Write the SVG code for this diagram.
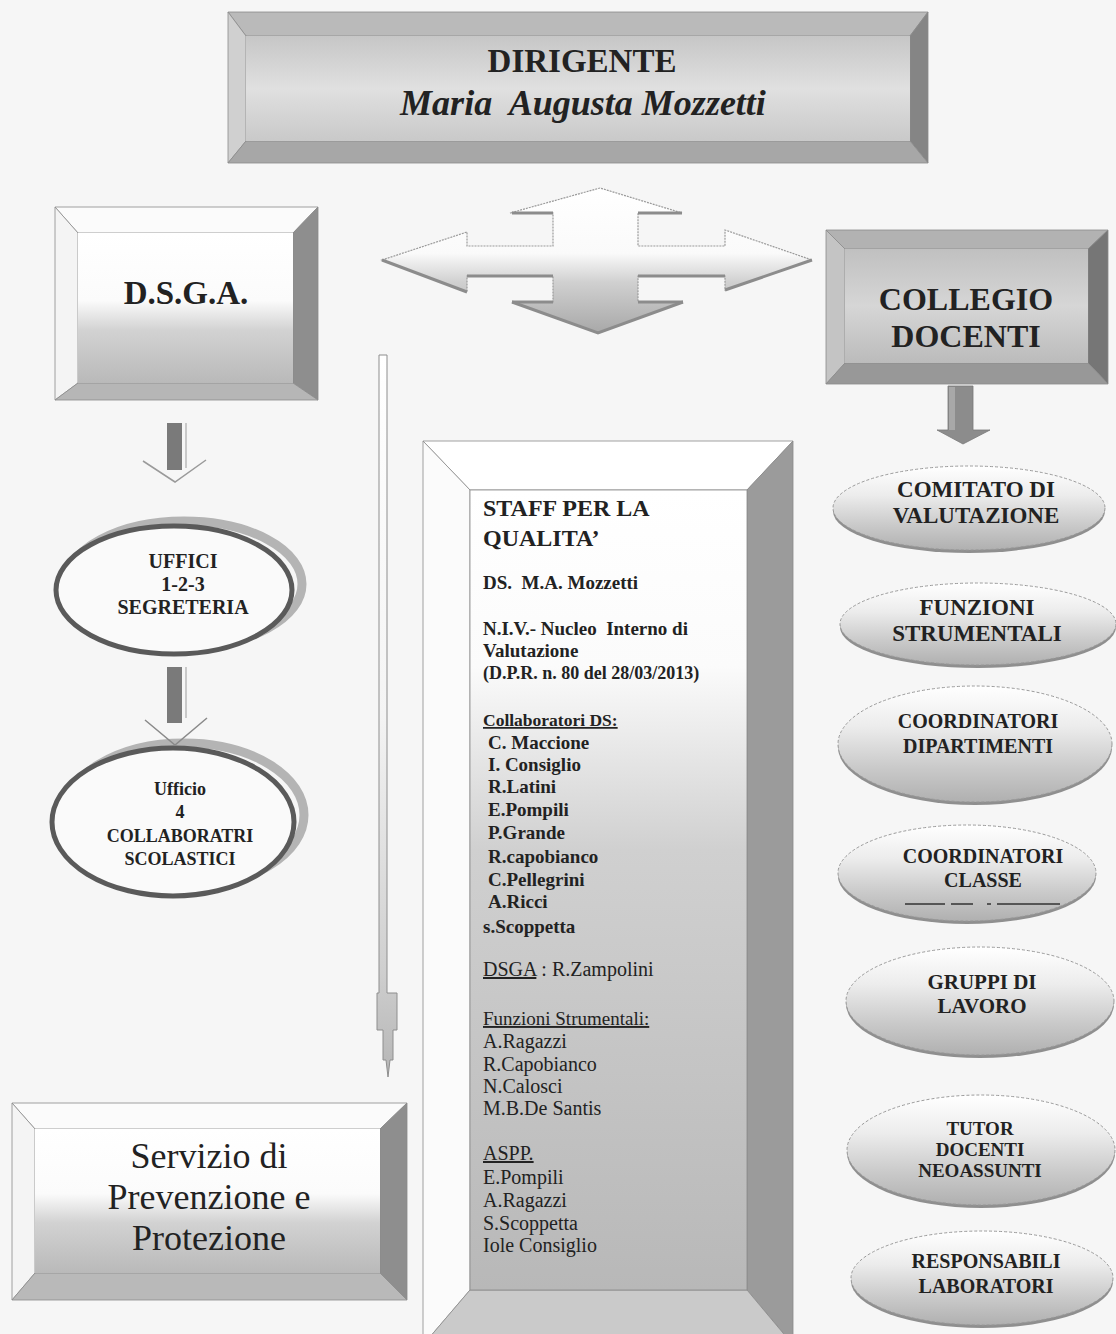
<svg xmlns="http://www.w3.org/2000/svg" width="1116" height="1334" viewBox="0 0 1116 1334">
<defs>
<style>
text{font-family:"Liberation Serif","Times New Roman",serif;fill:#222222;white-space:pre}
.b{font-weight:700}
.c{text-anchor:middle}
.edge{stroke:#8a8a8a;stroke-width:0.8}
.ul{text-decoration:underline}
.ell{stroke:#9a9a9a;stroke-width:1;stroke-dasharray:3 2}
</style>
<linearGradient id="gDir" x1="0" y1="0" x2="0" y2="1">
<stop offset="0" stop-color="#c6c6c6"/><stop offset="0.5" stop-color="#e0e0e0"/><stop offset="1" stop-color="#c9c9c9"/>
</linearGradient>
<linearGradient id="gWhiteGray" x1="0" y1="0" x2="0" y2="1">
<stop offset="0" stop-color="#ffffff"/><stop offset="0.45" stop-color="#fbfbfb"/><stop offset="0.65" stop-color="#d2d2d2"/><stop offset="1" stop-color="#b9b9b9"/>
</linearGradient>
<linearGradient id="gStaff" x1="0" y1="0" x2="0" y2="1">
<stop offset="0" stop-color="#ffffff"/><stop offset="0.22" stop-color="#fbfbfb"/><stop offset="0.45" stop-color="#d0d0d0"/><stop offset="1" stop-color="#b8b8b8"/>
</linearGradient>
<linearGradient id="gCol" x1="0" y1="0" x2="0" y2="1">
<stop offset="0" stop-color="#c0c0c0"/><stop offset="0.5" stop-color="#d6d6d6"/><stop offset="1" stop-color="#bbbbbb"/>
</linearGradient>
<linearGradient id="gArrow" x1="0" y1="0" x2="0" y2="1">
<stop offset="0" stop-color="#ffffff"/><stop offset="0.45" stop-color="#fafafa"/><stop offset="0.65" stop-color="#d0d0d0"/><stop offset="1" stop-color="#a8a8a8"/>
</linearGradient>
<linearGradient id="gThin" x1="0" y1="0" x2="0" y2="1">
<stop offset="0" stop-color="#ffffff"/><stop offset="0.5" stop-color="#f4f4f4"/><stop offset="0.85" stop-color="#cfcfcf"/><stop offset="1" stop-color="#b5b5b5"/>
</linearGradient>
<linearGradient id="gEll" x1="0" y1="0" x2="0" y2="1">
<stop offset="0" stop-color="#ffffff"/><stop offset="0.35" stop-color="#ececec"/><stop offset="0.7" stop-color="#cacaca"/><stop offset="1" stop-color="#b0b0b0"/>
</linearGradient>
</defs>
<rect x="0" y="0" width="1116" height="1334" fill="#f6f6f6"/>

<!-- DIRIGENTE -->
<g id="dirigente">
<polygon points="228,12 928,12 910,36 246,36" fill="#bababa" class="edge"/>
<polygon points="228,12 246,36 246,141 228,163" fill="#d0d0d0" class="edge"/>
<polygon points="928,12 928,163 910,141 910,36" fill="#858585" class="edge"/>
<polygon points="228,163 246,141 910,141 928,163" fill="#a7a7a7" class="edge"/>
<rect x="246" y="36" width="664" height="105" fill="url(#gDir)"/>
<text x="582" y="72" class="b c" font-size="33">DIRIGENTE</text>
<text x="583" y="115" class="b c" font-size="36" font-style="italic">Maria  Augusta Mozzetti</text>
</g>

<!-- D.S.G.A. -->
<g id="dsga">
<polygon points="55,207 318,207 293,233 78,233" fill="#fbfbfb" class="edge"/>
<polygon points="55,207 78,233 78,383 55,400" fill="#f4f4f4" class="edge"/>
<polygon points="318,207 318,400 293,383 293,233" fill="#8e8e8e" class="edge"/>
<polygon points="55,400 78,383 293,383 318,400" fill="#b6b6b6" class="edge"/>
<rect x="78" y="233" width="215" height="150" fill="url(#gWhiteGray)"/>
<text x="186" y="304" class="b c" font-size="33">D.S.G.A.</text>
</g>

<!-- COLLEGIO DOCENTI -->
<g id="collegio">
<polygon points="826,230 1108,230 1088,249 845,249" fill="#b2b2b2" class="edge"/>
<polygon points="826,230 845,249 845,363 826,384" fill="#c4c4c4" class="edge"/>
<polygon points="1108,230 1108,384 1088,363 1088,249" fill="#767676" class="edge"/>
<polygon points="826,384 845,363 1088,363 1108,384" fill="#989898" class="edge"/>
<rect x="845" y="249" width="243" height="114" fill="url(#gCol)"/>
<text x="966" y="310" class="b c" font-size="32">COLLEGIO</text>
<text x="966" y="347" class="b c" font-size="32">DOCENTI</text>
</g>

<!-- STAFF PER LA QUALITA' -->
<g id="staff">
<polygon points="423,441 793,441 747,490 470,490" fill="#ffffff" class="edge"/>
<polygon points="423,441 470,490 470,1290 423,1345" fill="#fbfbfb" class="edge"/>
<polygon points="793,441 793,1345 747,1290 747,490" fill="#9b9b9b" class="edge"/>
<polygon points="423,1345 470,1290 747,1290 793,1345" fill="#cacaca" class="edge"/>
<rect x="470" y="490" width="277" height="800" fill="url(#gStaff)" stroke="#8a8a8a" stroke-width="0.8"/>
<text x="483" y="516" class="b" font-size="24">STAFF PER LA</text>
<text x="483" y="546" class="b" font-size="24">QUALITA’</text>
<text x="483" y="589" class="b" font-size="19">DS.  M.A. Mozzetti</text>
<text x="483" y="635" class="b" font-size="19">N.I.V.- Nucleo  Interno di</text>
<text x="483" y="657" class="b" font-size="19">Valutazione</text>
<text x="483" y="679" class="b" font-size="18">(D.P.R. n. 80 del 28/03/2013)</text>
<text x="483" y="726" class="b ul" font-size="17.5">Collaboratori DS:</text>
<text x="488" y="749" class="b" font-size="19">C. Maccione</text>
<text x="488" y="771" class="b" font-size="19">I. Consiglio</text>
<text x="488" y="793" class="b" font-size="19">R.Latini</text>
<text x="488" y="816" class="b" font-size="19">E.Pompili</text>
<text x="488" y="839" class="b" font-size="19">P.Grande</text>
<text x="488" y="863" class="b" font-size="19">R.capobianco</text>
<text x="488" y="886" class="b" font-size="19">C.Pellegrini</text>
<text x="488" y="908" class="b" font-size="19">A.Ricci</text>
<text x="483" y="933" class="b" font-size="19">s.Scoppetta</text>
<text x="483" y="976" font-size="20"><tspan class="ul">DSGA</tspan> : R.Zampolini</text>
<text x="483" y="1025" class="ul" font-size="19">Funzioni Strumentali:</text>
<text x="483" y="1048" font-size="20">A.Ragazzi</text>
<text x="483" y="1071" font-size="20">R.Capobianco</text>
<text x="483" y="1093" font-size="20">N.Calosci</text>
<text x="483" y="1115" font-size="20">M.B.De Santis</text>
<text x="483" y="1160" class="ul" font-size="20">ASPP.</text>
<text x="483" y="1184" font-size="20">E.Pompili</text>
<text x="483" y="1207" font-size="20">A.Ragazzi</text>
<text x="483" y="1230" font-size="20">S.Scoppetta</text>
<text x="483" y="1252" font-size="20">Iole Consiglio</text>
</g>

<!-- Servizio di Prevenzione e Protezione -->
<g id="servizio">
<polygon points="12,1103 407,1103 380,1129 35,1129" fill="#fbfbfb" class="edge"/>
<polygon points="12,1103 35,1129 35,1273 12,1300" fill="#f4f4f4" class="edge"/>
<polygon points="407,1103 407,1300 380,1273 380,1129" fill="#8e8e8e" class="edge"/>
<polygon points="12,1300 35,1273 380,1273 407,1300" fill="#b9b9b9" class="edge"/>
<rect x="35" y="1129" width="345" height="144" fill="url(#gWhiteGray)"/>
<text x="209" y="1168" class="c" font-size="36">Servizio di</text>
<text x="209" y="1209" class="c" font-size="36">Prevenzione e</text>
<text x="209" y="1250" class="c" font-size="36">Protezione</text>
</g>

<!-- UFFICI 1-2-3 SEGRETERIA -->
<g id="uffici">
<ellipse cx="184" cy="584" rx="118" ry="63" fill="none" stroke="#b4b4b4" stroke-width="9"/>
<ellipse cx="174" cy="590" rx="118" ry="64" fill="#fafafa" stroke="#5a5a5a" stroke-width="5"/>
<text x="183" y="568" class="b c" font-size="20">UFFICI</text>
<text x="183" y="591" class="b c" font-size="20">1-2-3</text>
<text x="183" y="614" class="b c" font-size="20">SEGRETERIA</text>
</g>

<!-- Ufficio 4 COLLABORATRI SCOLASTICI -->
<g id="ufficio4">
<ellipse cx="184" cy="815" rx="120" ry="72" fill="none" stroke="#b4b4b4" stroke-width="9"/>
<ellipse cx="173" cy="822" rx="121" ry="74" fill="#fafafa" stroke="#5a5a5a" stroke-width="5"/>
<text x="180" y="795" class="b c" font-size="18">Ufficio</text>
<text x="180" y="818" class="b c" font-size="18">4</text>
<text x="180" y="842" class="b c" font-size="18">COLLABORATRI</text>
<text x="180" y="865" class="b c" font-size="18">SCOLASTICI</text>
</g>

<!-- Right column ellipses -->
<g id="comitato">
<ellipse cx="969" cy="511" rx="136" ry="42" fill="#8f8f8f"/>
<ellipse cx="969" cy="508" rx="136" ry="42" fill="url(#gEll)" class="ell"/>
<text x="976" y="497" class="b c" font-size="23">COMITATO DI</text>
<text x="976" y="523" class="b c" font-size="23">VALUTAZIONE</text>
</g>
<g id="funzioni">
<ellipse cx="978" cy="627" rx="138" ry="41" fill="#8f8f8f"/>
<ellipse cx="978" cy="624" rx="138" ry="41" fill="url(#gEll)" class="ell"/>
<text x="977" y="615" class="b c" font-size="23">FUNZIONI</text>
<text x="977" y="641" class="b c" font-size="23">STRUMENTALI</text>
</g>
<g id="coord-dip">
<ellipse cx="975" cy="747" rx="137" ry="58" fill="#8f8f8f"/>
<ellipse cx="975" cy="744" rx="137" ry="58" fill="url(#gEll)" class="ell"/>
<text x="978" y="728" class="b c" font-size="20">COORDINATORI</text>
<text x="978" y="753" class="b c" font-size="20">DIPARTIMENTI</text>
</g>
<g id="coord-classe">
<ellipse cx="967" cy="876" rx="129" ry="48" fill="#8f8f8f"/>
<ellipse cx="967" cy="873" rx="129" ry="48" fill="url(#gEll)" class="ell"/>
<text x="983" y="863" class="b c" font-size="20">COORDINATORI</text>
<text x="983" y="887" class="b c" font-size="20">CLASSE</text>
<line x1="905" y1="904" x2="1060" y2="904" stroke="#333" stroke-width="1.5" stroke-dasharray="40 6 22 14 4 6 30 0"/>
</g>
<g id="gruppi">
<ellipse cx="980" cy="1004" rx="134" ry="54" fill="#8f8f8f"/>
<ellipse cx="980" cy="1001" rx="134" ry="54" fill="url(#gEll)" class="ell"/>
<text x="982" y="989" class="b c" font-size="21">GRUPPI DI</text>
<text x="982" y="1013" class="b c" font-size="21">LAVORO</text>
</g>
<g id="tutor">
<ellipse cx="981" cy="1153" rx="134" ry="55" fill="#8f8f8f"/>
<ellipse cx="981" cy="1150" rx="134" ry="55" fill="url(#gEll)" class="ell"/>
<text x="980" y="1135" class="b c" font-size="19">TUTOR</text>
<text x="980" y="1156" class="b c" font-size="19">DOCENTI</text>
<text x="980" y="1177" class="b c" font-size="19">NEOASSUNTI</text>
</g>
<g id="responsabili">
<ellipse cx="982" cy="1281" rx="131" ry="47" fill="#8f8f8f"/>
<ellipse cx="982" cy="1278" rx="131" ry="47" fill="url(#gEll)" class="ell"/>
<text x="986" y="1268" class="b c" font-size="20">RESPONSABILI</text>
<text x="986" y="1293" class="b c" font-size="20">LABORATORI</text>
</g>

<!-- Connectors -->
<g id="connectors">
<polygon points="382,260 467,232 467,246 553,246 553,213 510,213 600,188 682,213 638,213 638,246 725,246 725,230 812,260 725,290 725,276 638,276 638,302 683,302 598,333 512,302 553,302 553,276 467,276 467,292" fill="url(#gArrow)" stroke="#9a9a9a" stroke-width="1.2" stroke-dasharray="2 1"/>
<path d="M512,213 H553 M638,213 H682 M467,276 H553 M638,276 H725 M553,302 H512 M638,302 H683" stroke="#8c8c8c" stroke-width="3" fill="none"/>
<path d="M382,260 L467,292 M812,260 L725,290 M512,302 L598,333 L683,302" stroke="#8c8c8c" stroke-width="3" fill="none"/>
<polygon points="379,355 387,355 387,993 397,993 397,1030 393,1030 393,1060 390,1060 388,1077 386,1060 383,1060 383,1030 377,1030 377,993 379,993" fill="url(#gThin)" stroke="#8e8e8e" stroke-width="1"/>
<rect x="167" y="423" width="15" height="47" fill="#7a7a7a"/>
<line x1="186" y1="423" x2="186" y2="468" stroke="#9c9c9c" stroke-width="1"/>
<polyline points="143,461 175,482 206,460" fill="none" stroke="#9a9a9a" stroke-width="1.5"/>
<rect x="167" y="667" width="15" height="56" fill="#7a7a7a"/>
<line x1="186" y1="667" x2="186" y2="718" stroke="#9c9c9c" stroke-width="1"/>
<polyline points="145,720 175,745 207,718" fill="none" stroke="#8a8a8a" stroke-width="1.5"/>
<polygon points="948,386 973,386 973,430 990,430 963,444 937,430 948,430" fill="#8c8c8c" stroke="#7a7a7a" stroke-width="0.8"/>
<rect x="949" y="387" width="6" height="43" fill="#a8a8a8"/>
</g>
</svg>
